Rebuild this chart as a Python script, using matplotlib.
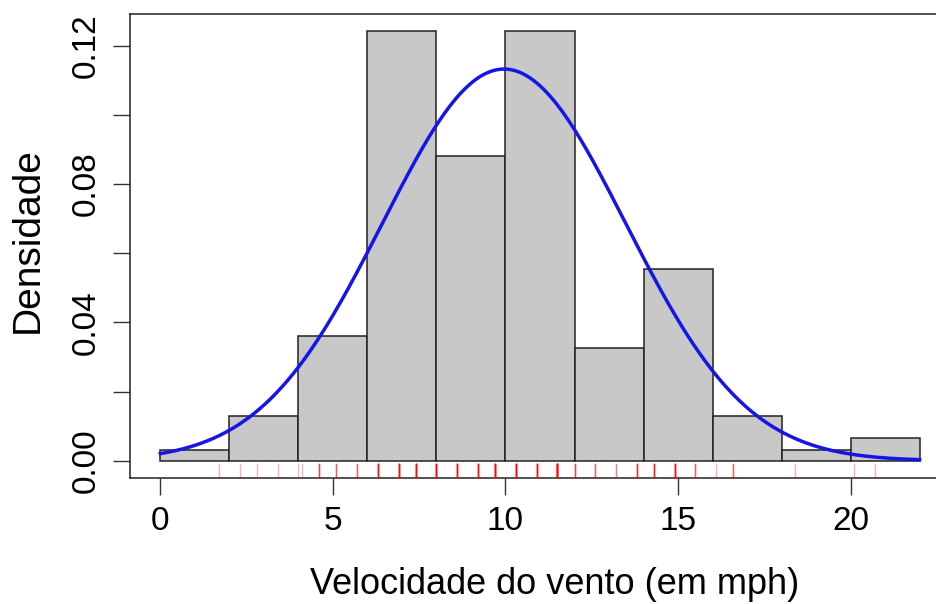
import numpy as np
import matplotlib
matplotlib.use('Agg')
import matplotlib.pyplot as plt

plt.rcParams['font.family'] = ['Liberation Sans', 'DejaVu Sans']

# histogram of wind speed, breaks every 2 mph (counts per bin)
bin_edges = [0, 2, 4, 6, 8, 10, 12, 14, 16, 18, 20, 22]
bin_counts = [1, 4, 11, 38, 27, 38, 10, 17, 4, 1, 2]
n_obs = 153

# rug: distinct wind values and how often each occurs
rug_values = [1.7, 2.3, 2.8, 3.4, 4.0, 4.1, 4.6, 5.1, 5.7, 6.3, 6.9, 7.4, 8.0,
              8.6, 9.2, 9.7, 10.3, 10.9, 11.5, 12.0, 12.6, 13.2, 13.8, 14.3,
              14.9, 15.5, 16.1, 16.6, 18.4, 20.1, 20.7]
rug_counts = [1, 1, 1, 1, 1, 1, 4, 3, 3, 8, 9, 10, 11,
              8, 8, 11, 11, 8, 15, 4, 3, 2, 5, 6,
              8, 3, 1, 3, 1, 1, 1]

# normal curve parameters (sample mean / sd)
wind_mean = 9.958
wind_sd = 3.523

fig = plt.figure(figsize=(9.37, 6.04), dpi=100)
ax = fig.add_axes([130 / 937, (604 - 478) / 604, 820 / 937, 464 / 604])

widths = np.diff(bin_edges)
density = np.array(bin_counts) / (n_obs * widths)
ax.bar(bin_edges[:-1], density, width=widths, align='edge',
       color='#c8c8c8', edgecolor='#222222', linewidth=1.1, zorder=2)

xs = np.linspace(0, 22, 400)
ys = np.exp(-0.5 * ((xs - wind_mean) / wind_sd) ** 2) / (wind_sd * np.sqrt(2 * np.pi))
ax.plot(xs, ys, color='#1515e8', linewidth=2.5, zorder=4)

trans = ax.get_xaxis_transform()
for val, cnt in zip(rug_values, rug_counts):
    for _ in range(cnt):
        ax.plot([val, val], [0, 0.03], color='red', alpha=0.3,
                linewidth=1.0, transform=trans, zorder=3)

ax.set_xlim(-0.88, 22.88)
ax.set_ylim(-0.00497, 0.12915)

ax.set_xticks([0, 5, 10, 15, 20])
ax.set_yticks([0, 0.02, 0.04, 0.06, 0.08, 0.10, 0.12])
ax.set_yticklabels(['0.00', '', '0.04', '', '0.08', '', '0.12'],
                   rotation=90, va='center')
ax.tick_params(axis='both', length=12, width=1.0, color='#333333',
               labelsize=24, pad=8)

for sp in ax.spines.values():
    sp.set_linewidth(1.1)
    sp.set_color('#222222')

ax.set_xlabel('Velocidade do vento (em mph)', fontsize=26, labelpad=22)
ax.set_ylabel('Densidade', fontsize=28, labelpad=18)
# the original plot region is clipped on the right/top, so labels sit off-centre
ax.xaxis.label.set_x(0.518)
ax.yaxis.label.set_y(0.512)

fig.savefig('out.png', dpi=100)
